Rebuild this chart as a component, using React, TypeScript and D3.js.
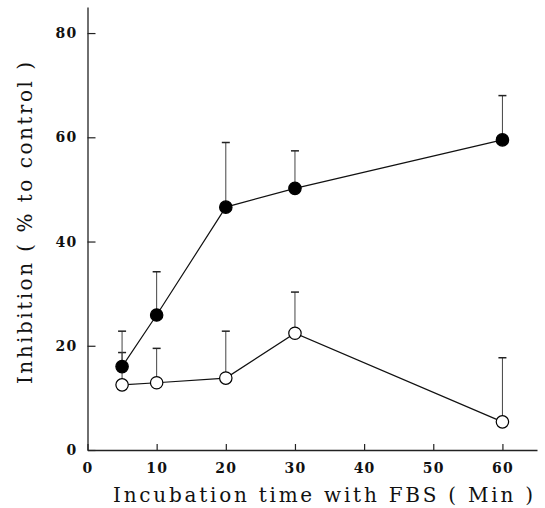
import { useEffect, useRef } from 'react';
import * as d3 from 'd3';

// incubation time (min)
const times = [5, 10, 20, 30, 60];
// filled circles
const filledMean = [16.0, 25.9, 46.6, 50.2, 59.5];
const filledErr = [6.8, 8.3, 12.4, 7.2, 8.5];
// open circles
const openMean = [12.5, 12.9, 13.8, 22.4, 5.4];
const openErr = [6.2, 6.6, 9.0, 7.9, 12.3];

const xTicks = [0, 10, 20, 30, 40, 50, 60];
const yTicks = [0, 20, 40, 60, 80];

const xTitle = 'Incubation time with FBS ( Min )';
const yTitle = 'Inhibition ( % to control )';

export default function App() {
  const svgRef = useRef<SVGSVGElement>(null);

  useEffect(() => {
    const width = 545;
    const height = 508;
    const svg = d3.select(svgRef.current);
    svg.selectAll('*').remove();
    svg.attr('width', width).attr('height', height);

    const x = d3.scaleLinear().domain([0, 65]).range([87.5, 537]);
    const y = d3.scaleLinear().domain([0, 85]).range([450, 7]);

    const font = '"DejaVu Serif", serif';

    // axes
    const yAxis = d3.axisLeft(y)
      .tickValues(yTicks)
      .tickSizeInner(-8)
      .tickSizeOuter(0)
      .tickPadding(10);

    const yg = svg.append('g')
      .attr('transform', `translate(${x(0)},0)`)
      .call(yAxis);
    yg.select('.domain').attr('stroke', '#222').attr('stroke-width', 1.3);
    yg.selectAll('.tick line').attr('stroke', '#222').attr('stroke-width', 1.2);
    yg.selectAll('.tick text')
      .attr('font-family', font)
      .attr('font-weight', 'bold')
      .attr('font-size', 14)
      .attr('letter-spacing', 1.2)
      .attr('fill', '#111');

    const xAxis = d3.axisBottom(x)
      .tickValues(xTicks)
      .tickSizeInner(-6)
      .tickSizeOuter(0)
      .tickPadding(13);

    const xg = svg.append('g')
      .attr('transform', `translate(0,${y(0)})`)
      .call(xAxis);
    xg.select('.domain').attr('stroke', '#222').attr('stroke-width', 1.6);
    xg.selectAll('.tick line').attr('stroke', '#222').attr('stroke-width', 1.2);
    xg.selectAll('.tick text')
      .attr('font-family', font)
      .attr('font-weight', 'bold')
      .attr('font-size', 14)
      .attr('letter-spacing', 1.2)
      .attr('fill', '#111');

    // axis titles
    svg.append('text')
      .attr('x', 113)
      .attr('y', 502)
      .attr('textLength', 420)
      .attr('lengthAdjust', 'spacing')
      .attr('font-family', font)
      .attr('font-size', 20)
      .attr('fill', '#111')
      .text(xTitle);

    svg.append('text')
      .attr('transform', 'translate(32,384) rotate(-90)')
      .attr('textLength', 322)
      .attr('lengthAdjust', 'spacing')
      .attr('font-family', font)
      .attr('font-size', 20)
      .attr('fill', '#111')
      .text(yTitle);

    const series = [
      { mean: openMean, err: openErr, fill: '#fff' },
      { mean: filledMean, err: filledErr, fill: '#000' },
    ];

    const line = d3.line<number>()
      .x((_, i) => x(times[i]))
      .y(d => y(d));

    series.forEach(s => {
      // error bars (upper only)
      const g = svg.append('g');
      s.mean.forEach((m, i) => {
        const cx = x(times[i]);
        const top = y(m + s.err[i]);
        g.append('line')
          .attr('x1', cx).attr('x2', cx)
          .attr('y1', y(m)).attr('y2', top)
          .attr('stroke', '#444').attr('stroke-width', 1);
        g.append('line')
          .attr('x1', cx - 4).attr('x2', cx + 4)
          .attr('y1', top).attr('y2', top)
          .attr('stroke', '#222').attr('stroke-width', 1.5);
      });
    });

    series.forEach(s => {
      svg.append('path')
        .datum(s.mean)
        .attr('fill', 'none')
        .attr('stroke', '#111')
        .attr('stroke-width', 1.2)
        .attr('d', line);
    });

    series.forEach(s => {
      svg.append('g')
        .selectAll('circle')
        .data(s.mean)
        .enter()
        .append('circle')
        .attr('cx', (_, i) => x(times[i]))
        .attr('cy', d => y(d))
        .attr('r', 6.2)
        .attr('fill', s.fill)
        .attr('stroke', '#000')
        .attr('stroke-width', 1.2);
    });
  }, []);

  return (
    <svg
      ref={svgRef}
      style={{ position: 'absolute', left: 0, top: 0, background: '#fff' }}
    ></svg>
  );
}
